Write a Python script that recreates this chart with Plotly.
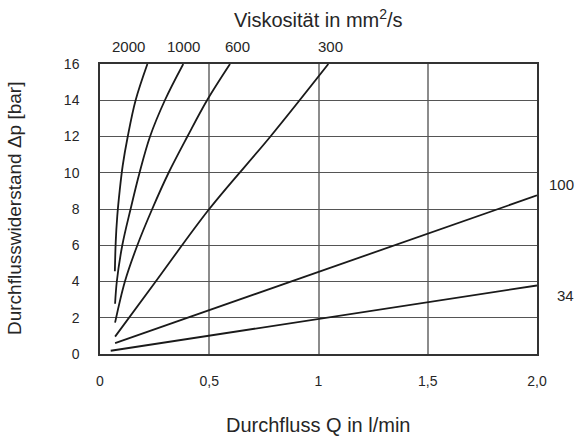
import plotly.graph_objects as go

# Viscosity curves (mm²/s): flow Q (l/min) vs pressure drop Δp (bar)
q_2000 = [0.068, 0.072, 0.079, 0.090, 0.104, 0.127, 0.163, 0.217]
p_2000 = [4.56, 6.2, 7.6, 9.0, 10.4, 12.0, 14.0, 16.0]

q_1000 = [0.069, 0.077, 0.102, 0.140, 0.181, 0.229, 0.297, 0.381]
p_1000 = [2.77, 4.0, 6.0, 8.0, 10.0, 12.0, 14.0, 16.0]

q_600 = [0.069, 0.114, 0.171, 0.239, 0.314, 0.400, 0.490, 0.595]
p_600 = [1.73, 4.0, 6.0, 8.0, 10.0, 12.0, 14.0, 16.0]

q_300 = [0.069, 0.255, 0.500, 0.780, 1.045]
p_300 = [0.96, 4.0, 8.0, 12.0, 16.0]

q_100 = [0.069, 2.0]
p_100 = [0.60, 8.75]

q_34 = [0.049, 2.0]
p_34 = [0.18, 3.78]

top_labels = ["2000", "1000", "600", "300"]
right_labels = ["100", "34"]

x_ticks = [0, 0.5, 1, 1.5, 2]
x_ticktext = ["0", "0,5", "1", "1,5", "2,0"]
y_ticks = [0, 2, 4, 6, 8, 10, 12, 14, 16]

FONT = "Liberation Sans, Arial, sans-serif"
TXT = "#262626"
series = [(q_2000, p_2000, "spline"), (q_1000, p_1000, "spline"), (q_600, p_600, "spline"),
          (q_300, p_300, "spline"), (q_100, p_100, "linear"), (q_34, p_34, "linear")]

fig = go.Figure()
for qx, py, shape in series:
    fig.add_trace(go.Scatter(x=qx, y=py, mode="lines",
                             line=dict(color="#1a1a1a", width=1.8, shape=shape, smoothing=1.0),
                             showlegend=False, hoverinfo="skip"))

annotations = []
for lab, qx, dx in zip(top_labels, [q_2000, q_1000, q_600, q_300], [-19, 0, 7, 2]):
    annotations.append(dict(x=qx[-1], y=1.0, xref="x", yref="paper", text=lab, showarrow=False,
                            yanchor="middle", yshift=18, xshift=dx,
                            font=dict(family=FONT, size=15, color=TXT)))
for lab, py, yoff in zip(right_labels, [p_100, p_34], [0.6, -0.55]):
    annotations.append(dict(x=1.0, y=py[-1] + yoff, xref="paper", yref="y", text=lab, showarrow=False,
                            xanchor="right", xshift=39, yanchor="middle",
                            font=dict(family=FONT, size=15, color=TXT)))
annotations.append(dict(x=0.5, y=1.0, xref="paper", yref="paper", text="Viskosität in mm<sup>2</sup>/s",
                        showarrow=False, yanchor="middle", yshift=46,
                        font=dict(family=FONT, size=20, color=TXT)))
annotations.append(dict(x=0.5, y=0.0, xref="paper", yref="paper", text="Durchfluss Q in l/min",
                        showarrow=False, yanchor="middle", yshift=-71,
                        font=dict(family=FONT, size=20, color=TXT)))
annotations.append(dict(x=0.0, y=0.5, xref="paper", yref="paper", text="Durchflusswiderstand Δp [bar]",
                        showarrow=False, xanchor="center", yanchor="middle", xshift=-86, textangle=-90,
                        font=dict(family=FONT, size=19, color=TXT)))

fig.update_layout(
    width=582, height=436,
    margin=dict(l=100, r=45, t=64, b=82, autoexpand=False),
    paper_bgcolor="white", plot_bgcolor="white",
    font=dict(family=FONT, size=14, color=TXT),
    annotations=annotations,
    xaxis=dict(range=[0, 2], tickvals=x_ticks, ticktext=x_ticktext,
               showgrid=True, gridcolor="#8c8c8c", gridwidth=1.7,
               showline=True, linecolor="#333", linewidth=1.5, mirror=True,
               ticks="", ticklabelstandoff=13, zeroline=False,
               tickfont=dict(family=FONT, size=14, color=TXT)),
    yaxis=dict(range=[0, 16], tickvals=y_ticks,
               showgrid=True, gridcolor="#555", gridwidth=1.3,
               showline=True, linecolor="#333", linewidth=1.5, mirror=True,
               ticks="", ticklabelstandoff=16, zeroline=False,
               tickfont=dict(family=FONT, size=14, color=TXT)),
)

fig.write_html("out.html", config={"displayModeBar": False},
               post_script="document.body.style.margin='0px';")
